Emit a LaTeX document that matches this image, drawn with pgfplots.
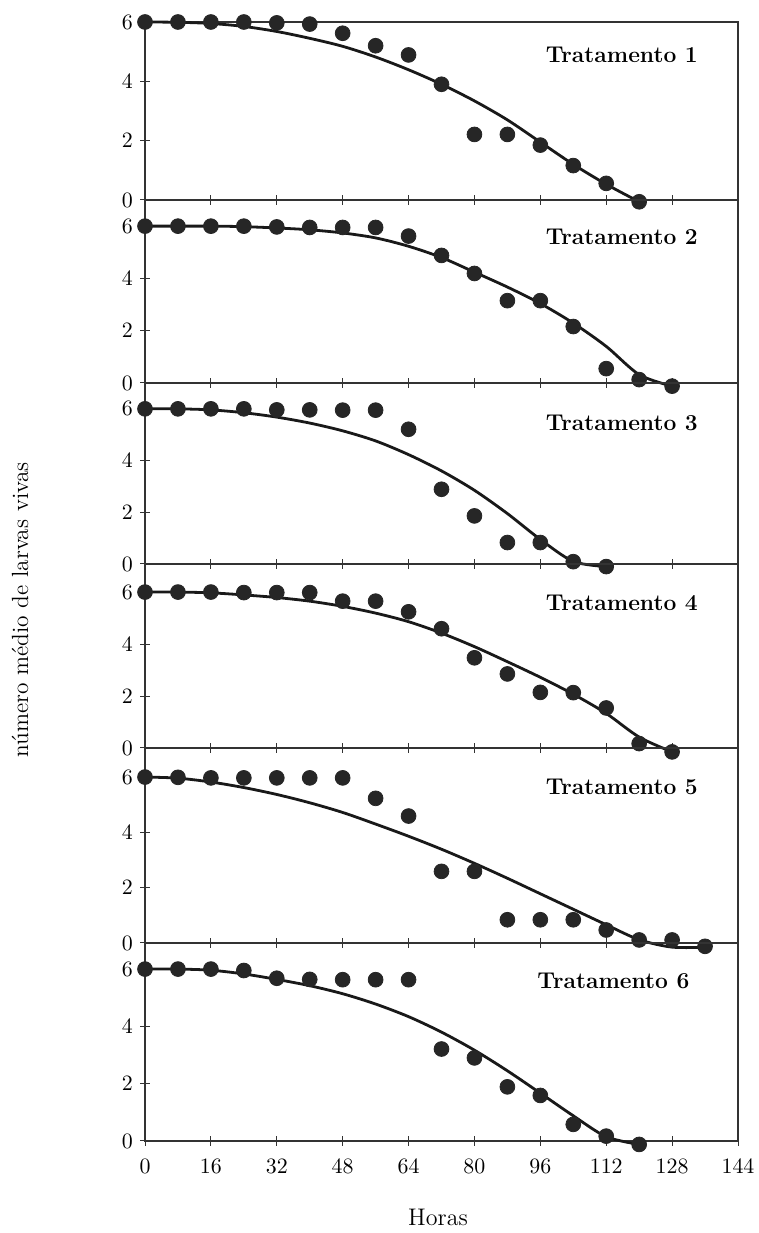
\documentclass[border=0pt]{standalone}
\usepackage{pgfplots}
\pgfplotsset{compat=1.18}
\begin{document}
\begin{tikzpicture}
\useasboundingbox (0,0) rectangle (379.5pt,616.5pt);
\pgfplotsset{
 panel/.style={scale only axis, width=296.5pt, xmin=0, xmax=144, ymin=0, clip=false,
   xtick={0,16,...,144}, ytick={0,2,4,6}, xtick pos=bottom, ytick pos=left,
   tick align=center, major tick length=5pt,
   axis line style={line width=0.6pt, black!80}, tick style={line width=0.5pt, black!80},
   ticklabel style={font=\fontsize{10.5}{12}\selectfont},
   xticklabel style={yshift=-3pt},
   anchor=south west},
 fitc/.style={line width=1.4pt, black!90, smooth, no markers},
 obs/.style={only marks, mark=*, mark size=3.7pt, black!85}
}
\tikzset{lab/.style={font=\fontsize{11.4}{13}\selectfont\bfseries, anchor=east}}
% Panel 1
\begin{axis}[panel, at={(72.5pt,516.5pt)}, height=89pt, ymax=6, xticklabels={}]
\addplot[fitc] coordinates {(0,6) (8,5.99) (16,5.95) (24,5.85) (32,5.68) (40,5.45) (48,5.18) (56,4.82) (64,4.39) (72,3.9) (80,3.34) (88,2.7) (96,1.95) (104,1.2) (112,0.53) (120,-0.06)};
\addplot[obs] coordinates {(0,6) (8,6) (16,6) (24,6) (32,5.97) (40,5.93) (48,5.62) (56,5.2) (64,4.89) (72,3.9) (80,2.21) (88,2.21) (96,1.85) (104,1.16) (112,0.56) (120,-0.06)};
\node[lab] at (rel axis cs:0.944,0.815) {Tratamento 1};
\end{axis}
% Panel 2
\begin{axis}[panel, at={(72.5pt,425pt)}, height=91.5pt, ymax=7, xticklabels={}]
\addplot[fitc] coordinates {(0,6) (16,6) (24,5.98) (32,5.93) (40,5.86) (48,5.74) (56,5.55) (64,5.23) (72,4.8) (80,4.24) (88,3.67) (96,3.04) (104,2.29) (112,1.4) (120,0.32) (128,-0.12)};
\addplot[obs] coordinates {(0,6) (8,6) (16,6) (24,6) (32,5.97) (40,5.95) (48,5.95) (56,5.95) (64,5.62) (72,4.88) (80,4.19) (88,3.15) (96,3.15) (104,2.16) (112,0.55) (120,0.13) (128,-0.12)};
\node[lab] at (rel axis cs:0.944,0.80) {Tratamento 2};
\end{axis}
% Panel 3
\begin{axis}[panel, at={(72.5pt,334.5pt)}, height=90.5pt, ymax=7, xticklabels={}]
\addplot[fitc] coordinates {(0,6) (8,6) (16,5.96) (24,5.85) (32,5.68) (40,5.45) (48,5.15) (56,4.76) (64,4.23) (72,3.6) (80,2.85) (88,1.95) (96,0.95) (104,0.1) (112,-0.1)};
\addplot[obs] coordinates {(0,6) (8,6) (16,6) (24,6) (32,5.96) (40,5.96) (48,5.95) (56,5.95) (64,5.21) (72,2.89) (80,1.86) (88,0.83) (96,0.83) (104,0.09) (112,-0.1)};
\node[lab] at (rel axis cs:0.944,0.78) {Tratamento 3};
\end{axis}
% Panel 4
\begin{axis}[panel, at={(72.5pt,242.5pt)}, height=92pt, ymax=7.08, xticklabels={}]
\addplot[fitc] coordinates {(0,6) (8,6) (16,5.97) (24,5.89) (32,5.79) (40,5.65) (48,5.45) (56,5.19) (64,4.86) (72,4.42) (80,3.9) (88,3.32) (96,2.72) (104,2.07) (112,1.33) (120,0.42) (128,-0.15)};
\addplot[obs] coordinates {(0,6) (8,6) (16,6) (24,5.98) (32,5.98) (40,5.98) (48,5.65) (56,5.65) (64,5.24) (72,4.59) (80,3.47) (88,2.85) (96,2.14) (104,2.13) (112,1.54) (120,0.17) (128,-0.15)};
\node[lab] at (rel axis cs:0.944,0.79) {Tratamento 4};
\end{axis}
% Panel 5
\begin{axis}[panel, at={(72.5pt,145pt)}, height=97.5pt, ymax=7.05, xticklabels={}]
\addplot[fitc] coordinates {(0,6) (8,5.96) (16,5.82) (24,5.62) (32,5.37) (40,5.07) (48,4.72) (56,4.3) (64,3.86) (72,3.39) (80,2.88) (88,2.34) (96,1.78) (104,1.22) (112,0.66) (120,0.12) (128,-0.15) (136,-0.15)};
\addplot[obs] coordinates {(0,6) (8,5.99) (16,5.97) (24,5.97) (32,5.97) (40,5.97) (48,5.97) (56,5.23) (64,4.59) (72,2.59) (80,2.59) (88,0.84) (96,0.84) (104,0.84) (112,0.47) (120,0.11) (128,0.11) (136,-0.12)};
\node[lab] at (rel axis cs:0.944,0.80) {Tratamento 5};
\end{axis}
% Panel 6
\begin{axis}[panel, at={(72.5pt,46pt)}, height=99pt, ymax=6.91]
\addplot[fitc] coordinates {(0,6) (8,6) (16,5.96) (24,5.83) (32,5.64) (40,5.42) (48,5.14) (56,4.78) (64,4.34) (72,3.8) (80,3.17) (88,2.45) (96,1.67) (104,0.88) (112,0.15) (120,-0.12)};
\addplot[obs] coordinates {(0,6) (8,6) (16,6) (24,5.95) (32,5.68) (40,5.64) (48,5.63) (56,5.63) (64,5.63) (72,3.21) (80,2.9) (88,1.89) (96,1.59) (104,0.58) (112,0.17) (120,-0.12)};
\node[lab] at (rel axis cs:0.93,0.81) {Tratamento 6};
\end{axis}
\node[rotate=90, font=\fontsize{11.7}{14}\selectfont] at (10pt,311.5pt) {número médio de larvas vivas};
\node[font=\fontsize{12}{14}\selectfont] at (219pt,8pt) {Horas};
\end{tikzpicture}
\end{document}
